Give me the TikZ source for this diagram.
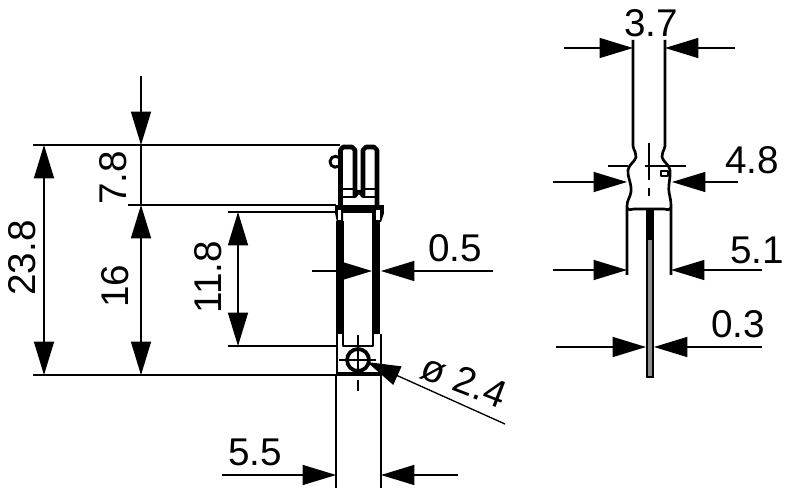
\documentclass[tikz,border=0pt]{standalone}
\usepackage{fontspec}
\setmainfont{Liberation Sans}
\usetikzlibrary{arrows.meta, positioning}

\begin{document}
\begin{tikzpicture}[
    x=0.75pt, y=-0.75pt,
    dim/.style = {line width=1pt, {Triangle[length=25pt,width=15pt]}-{Triangle[length=25pt,width=15pt]}},
    arrow/.style = {line width=1pt, -{Triangle[length=25pt,width=15pt]}},
    ext/.style = {line width=0.9pt},
    outline/.style = {line width=2pt, line join=round},
    wall/.style = {line width=5.5pt},
    axis/.style = {line width=0.9pt},
    label/.style = {font=\fontsize{29pt}{31pt}\selectfont, inner sep=0pt}
  ]
  \useasboundingbox (0,0) rectangle (790,488);

  % Anchor points
  \foreach \name/\x/\y in {
      topA/141/76, topB/141/145, topC/141/205, botB/141/375,
      oaA/44/145, oaB/44/375, holeA/238/212, holeB/238/346,
      wallL/312/271, wallLtip/372/271, wallR/493/271, wallRtip/381/271,
      pitchL/222/475, pitchLtip/336/475, pitchR/458/475, pitchRtip/381/475,
      dia/505/424, diaTip/367/362,
      wideL/564/48, wideLtip/633/48, wideR/735/48, wideRtip/665/48,
      midL/553/182, midLtip/627/182, midR/738/182, midRtip/672/182,
      lowL/553/270, lowLtip/627/270, lowR/762/270, lowRtip/671/270,
      pinL/556/347, pinLtip/646/347, pinR/762/347, pinRtip/654/347}
    \coordinate (\name) at (\x,\y);

  % Side view, extension lines
  \draw[ext] (33,145) -- (340,145);
  \draw[ext] (128,205) -- (336,205);
  \draw[ext] (33,375) -- (338,375);
  \draw[ext] (228,212) -- (336,212);
  \draw[ext] (228,346) -- (336,346);
  \draw[ext] (336,375) -- (336,488);
  \draw[ext] (381,375) -- (381,488);

  % Side view, fork
  \draw[outline, line width=3.4pt]
    (340.5,205) -- (340.5,150) -- (343,147) -- (352,147) -- (355,150)
    -- (355,196) arc[start angle=180, end angle=360, radius=4] -- (363,150)
    -- (366,147) -- (374,147) -- (377,150) -- (377,205);
  \draw[outline] (340,189) -- (353,189) (340,197) -- (355,197);
  \draw[outline] (364,189) -- (377,189) (364,197) -- (377,197);
  \draw[outline, line width=2.2pt] (339,166) arc[start angle=50, end angle=310, radius=5.5];

  % Side view, body
  \fill (335,205) rectangle (384,213);
  \fill (335,213) -- (337,222) -- (343,222) -- (343,213) -- cycle;
  \fill (384,213) -- (381,222) -- (372,222) -- (372,213) -- cycle;
  \fill[white] (338,210) rectangle (341,220);
  \fill[white] (376,210) rectangle (380,220);
  \draw[wall] (340,221) -- (340,334);
  \draw[wall] (376,221) -- (376,334);
  \draw[outline] (337,334) -- (337,375) -- (381,375) -- (381,334);
  \draw[outline, line width=2pt] (343,334) -- (343,346) -- (373,346) -- (373,334);
  \fill (336,372) rectangle (382,376);
  \draw[outline, line width=2.8pt] (358,360) circle[radius=11];
  \draw[axis] (339,360) -- (376,360);
  \draw[axis] (358,335) -- (358,370);
  \draw[axis, line width=1.4pt] (358,380) -- (358,391);

  % Side view, dimensions
  \draw[arrow] (topA) -- (topB);
  \draw[dim] (oaA) -- (oaB);
  \draw[ext] (topB) -- (topC);
  \draw[dim] (topC) -- (botB);
  \draw[dim] (holeA) -- (holeB);
  \draw[arrow] (wallL) -- (wallLtip);
  \draw[arrow] (wallR) -- (wallRtip);
  \draw[arrow] (pitchL) -- (pitchLtip);
  \draw[arrow] (pitchR) -- (pitchRtip);
  \draw[arrow] (dia) -- (diaTip);

  \node[label, rotate=90] (lblOverall) at (22,258) {23.8};
  \node[label, rotate=90] (lblUpper) at (113,178) {7.8};
  \node[label, rotate=90] (lblLower) at (115,286) {16};
  \node[label, rotate=90] (lblHole) at (208,277) {11.8};
  \node[label] (lblWall) at (455,248) {0.5};
  \node[label] (lblPitch) at (255,452) {5.5};
  \node[label, rotate=-21] (lblDia) at (464,381) {ø 2.4};

  % End view, outline
  \draw[outline]
    (633,40) -- (633,146) .. controls (634,152) and (637,153) .. (636,157)
    .. controls (635,162) and (629,164) .. (628,170)
    .. controls (627,176) and (632,184) .. (631,192)
    .. controls (630,198) and (627,200) .. (627,206)
    -- (627,275);
  \draw[outline]
    (665,40) -- (665,146) .. controls (664,152) and (661,153) .. (662,157)
    .. controls (663,162) and (669,164) .. (670,170)
    .. controls (671,176) and (668,184) .. (669,192)
    .. controls (670,198) and (671,200) .. (671,206)
    -- (671,275);
  \draw[outline] (627,208) .. controls (629,210) .. (634,209) -- (664,209)
    .. controls (669,210) .. (671,208);
  \draw[outline] (661,171) rectangle (668,176);

  % End view, pin
  \filldraw[fill=black!45, line width=2pt] (647,209) rectangle (653,377);
  \fill (646,209) rectangle (654,240);

  % End view, axes
  \draw[axis] (608,166) -- (628,166);
  \draw[axis] (645,166) -- (686,166);
  \draw[axis] (649,143) -- (649,180);
  \draw[axis] (649,188) -- (649,196);

  % End view, dimensions
  \draw[arrow] (wideL) -- (wideLtip);
  \draw[arrow] (wideR) -- (wideRtip);
  \draw[arrow] (midL) -- (midLtip);
  \draw[arrow] (midR) -- (midRtip);
  \draw[arrow] (lowL) -- (lowLtip);
  \draw[arrow] (lowR) -- (lowRtip);
  \draw[arrow] (pinL) -- (pinLtip);
  \draw[arrow] (pinR) -- (pinRtip);

  \node[label] (lblWide) at (651,23) {3.7};
  \node[label] (lblMid) at (752,160) {4.8};
  \node[label] (lblLow) at (757,250) {5.1};
  \node[label] (lblPin) at (738,324) {0.3};

\end{tikzpicture}
\end{document}
